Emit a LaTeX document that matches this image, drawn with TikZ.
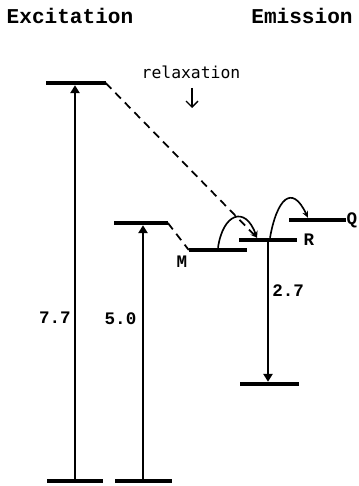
\documentclass[tikz,border=0pt]{standalone}
\usepackage{fontspec}
\setmainfont{Liberation Mono}
\newfontfamily\relaxfont{DejaVu Sans Mono}
\usetikzlibrary{positioning, arrows.meta}
\tikzset{
  lvl/.style={rectangle, fill=black, inner sep=0pt, minimum height=0.12cm},
  tr/.style={-{Triangle[length=2.4mm,width=2.8mm]}, line width=1.4pt},
  hop/.style={-{Stealth[length=2mm,width=1.8mm]}, line width=1.4pt},
  rl/.style={dash pattern=on 0.24cm off 0.17cm, line width=1.5pt},
  ttl/.style={font=\fontsize{18}{20}\selectfont\bfseries},
  lbl/.style={font=\fontsize{15}{17}\selectfont\bfseries, inner sep=1pt}
}

\begin{document}
\begin{tikzpicture}[x=0.03cm, y=-0.03cm]
  \useasboundingbox (0,0) rectangle (358,486);
  % Titles
  \node[ttl] (exc) at (70,16) {Excitation};
  \node[ttl] (emi) at (302,16) {Emission};
  % Excitation levels
  \node[lvl, minimum width=1.77cm] (up77) at (76,83) {};
  \node[lvl, minimum width=1.6cm] (up50) at (141,223) {};
  \node[lvl, minimum width=1.68cm] (gd77) at (75,481) {};
  \node[lvl, minimum width=1.71cm] (gd50) at (143,481) {};
  \draw[tr] (gd77.north) -- (gd77.north |- up77.south) node[lbl, left=2pt, pos=0.41] (e77) {7.7};
  \draw[tr] (gd50.north) -- (gd50.north |- up50.south) node[lbl, left=4pt, pos=0.63] (e50) {5.0};
  % Emission levels
  \node[lvl, minimum width=1.74cm] (lvM) at (218,250) {};
  \node[lvl, minimum width=1.74cm] (lvR) at (268,240) {};
  \node[lvl, minimum width=1.71cm] (lvQ) at (317,220) {};
  \node[lvl, minimum width=1.77cm] (lvG) at (269,384) {};
  \node[lbl] (nM) at (182,262) {M};
  \node[lbl, right=0.15cm of lvR.east] (nR) {R};
  \node[lbl, inner sep=0pt, right=0.02cm of lvQ.east] (nQ) {Q};
  \draw[tr] (lvR.center) -- (lvR.center |- lvG.north) node[lbl, right=2pt, pos=0.36] (e27) {2.7};
  % Relaxation
  \node[font=\relaxfont\fontsize{14}{16}\selectfont] (rlx) at (191,72) {relaxation};
  \coordinate (rtop) at (192,88);
  \coordinate (rbot) at (192,108);
  \draw[-{Straight Barb[length=1.8mm]}, line width=1.1pt] (rtop) -- (rbot);
  \coordinate (hit) at ([xshift=-0.33cm]lvR.north);
  \draw[rl, -{Stealth[length=2mm]}] (up77.east) -- (hit);
  \draw[rl] (up50.east) -- (lvM.west);
  % Hops between the levels
  \draw[hop] (lvM.north) to[out=82, in=110, looseness=2.2] (hit);
  \draw[hop] ([xshift=0.06cm]lvR.north) to[out=80, in=115, looseness=2.3] ([xshift=-0.27cm]lvQ.north);
\end{tikzpicture}
\end{document}
